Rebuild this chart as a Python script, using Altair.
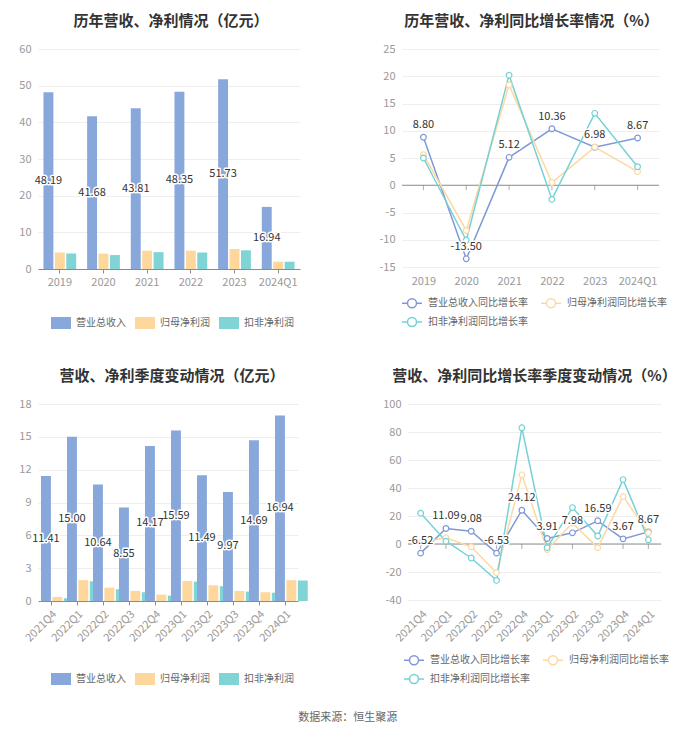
import altair as alt
import pandas as pd

FONT = "Noto Sans CJK SC"

years = ["2019", "2020", "2021", "2022", "2023", "2024Q1"]
rev_y = [48.19, 41.68, 43.81, 48.35, 51.73, 16.94]
np_y = [4.5, 4.2, 5.0, 5.0, 5.45, 2.0]
dnp_y = [4.2, 3.8, 4.6, 4.5, 5.1, 1.95]
rev_g_y = [8.80, -13.50, 5.12, 10.36, 6.98, 8.67]
np_g_y = [5.6, -8.3, 18.4, 0.5, 7.0, 2.5]
dnp_g_y = [5.0, -10.1, 20.2, -2.6, 13.2, 3.4]

quarters = ["2021Q4", "2022Q1", "2022Q2", "2022Q3", "2022Q4",
            "2023Q1", "2023Q2", "2023Q3", "2023Q4", "2024Q1"]
rev_q = [11.41, 15.00, 10.64, 8.55, 14.17, 15.59, 11.49, 9.97, 14.69, 16.94]
np_q = [0.37, 1.9, 1.22, 0.92, 0.58, 1.83, 1.44, 0.92, 0.8, 1.9]
dnp_q = [0.25, 1.8, 1.07, 0.8, 0.49, 1.77, 1.35, 0.86, 0.76, 1.87]
rev_g_q = [-6.52, 11.09, 9.08, -6.53, 24.12, 3.91, 7.98, 16.59, 3.67, 8.67]
np_g_q = [1.0, 4.5, -2.0, -20.5, 49.4, -4.0, 15.0, -2.6, 34.0, 8.0]
dnp_g_q = [22.0, 2.0, -10.0, -26.0, 83.0, -2.6, 26.0, 5.7, 46.0, 3.0]

bar_series = ["营业总收入", "归母净利润", "扣非净利润"]
bar_colors = ["#88a8dc", "#fdd79c", "#80d4d6"]
line_series = ["营业总收入同比增长率", "归母净利润同比增长率", "扣非净利润同比增长率"]
line_colors = ["#7f98d6", "#fdd8a0", "#74d2d5"]

RECT = "M-1,-0.6H1V0.6H-1Z"
LINESYM = ("M-1,0H-0.45M0.45,0H1M0.45,0A0.45,0.45,0,1,1,-0.45,0"
           "A0.45,0.45,0,1,1,0.45,0Z")
AXIS_GRAY = "#8c8c8c"
LABEL_GRAY = "#999999"
MINUS_FIX = "replace(datum.label, '\u2212', '-')"
TXT_EXPR = "(datum.value < 0 ? '-' : '') + format(abs(datum.value), '.2f')"


def make_title(text, dx):
    return alt.Title(text, fontSize=15, fontWeight="bold", color="#333333",
                     anchor="middle", offset=14, dx=dx, font=FONT)


def bar_panel(cats, rev, npv, dnp, ymax, step, w, h, title, rotate,
              pad_in, off_pad, lx, ly, tdx):
    rows = []
    for i, c in enumerate(cats):
        for s, v in zip(bar_series, (rev[i], npv[i], dnp[i])):
            rows.append({"cat": c, "series": s, "value": v})
    df = pd.DataFrame(rows)
    xaxis = alt.Axis(title=None, labelAngle=-45 if rotate else 0,
                     labelColor=LABEL_GRAY, labelFontSize=11,
                     domainColor=AXIS_GRAY, tickColor=AXIS_GRAY, tickSize=4,
                     labelPadding=3, grid=False, labelOverlap=False)
    x = alt.X("cat:N", sort=cats,
              scale=alt.Scale(paddingInner=pad_in, paddingOuter=pad_in / 2),
              axis=xaxis)
    xo = alt.XOffset("series:N", sort=bar_series,
                     scale=alt.Scale(domain=bar_series, paddingInner=off_pad))
    yaxis = alt.Axis(title=None, values=list(range(0, ymax + 1, step)),
                     labelColor=LABEL_GRAY, labelFontSize=11, domain=False,
                     ticks=False, gridColor="#eeeeee", labelPadding=7,
                     labelOverlap=False)
    yscale = alt.Scale(domain=[0, ymax], nice=False)
    y = alt.Y("value:Q", scale=yscale, axis=yaxis)
    yh = alt.Y("half:Q", scale=yscale, axis=yaxis)
    color = alt.Color("series:N", sort=bar_series,
                      scale=alt.Scale(domain=bar_series, range=bar_colors),
                      legend=alt.Legend(orient="none", legendX=lx, legendY=ly,
                                        direction="horizontal", title=None,
                                        symbolType=RECT, symbolSize=400,
                                        labelFontSize=10, labelColor="#666666",
                                        columnPadding=8, labelOffset=4))
    base = alt.Chart(df)
    bars = base.mark_bar().encode(x=x, xOffset=xo, y=y, color=color)
    lab = base.transform_filter(
        alt.datum.series == bar_series[0]
    ).transform_calculate(half="datum.value / 2", txt=TXT_EXPR)
    halo = lab.mark_text(fontSize=11, color="white", stroke="white",
                         strokeWidth=3, strokeJoin="round").encode(
        x=x, xOffset=xo, y=yh, text="txt:N")
    text = lab.mark_text(fontSize=11, color="#333333").encode(
        x=x, xOffset=xo, y=yh, text="txt:N")
    return alt.layer(bars, halo, text).properties(
        width=w, height=h, title=make_title(title, tdx))


def line_panel(cats, a, b, c, ymin, ymax, step, w, h, title, rotate, lx, ly,
               tdx):
    rows = []
    for i, cat in enumerate(cats):
        for s, v in zip(line_series, (a[i], b[i], c[i])):
            rows.append({"cat": cat, "series": s, "value": v})
    df = pd.DataFrame(rows)
    xaxis = alt.Axis(title=None, labelAngle=-45 if rotate else 0,
                     labelColor=LABEL_GRAY, labelFontSize=11, domain=False,
                     ticks=False, labelPadding=8, grid=False,
                     labelOverlap=False)
    x = alt.X("cat:N", sort=cats, scale=alt.Scale(type="point", padding=0.5),
              axis=xaxis)
    yaxis = alt.Axis(title=None, values=list(range(ymin, ymax + 1, step)),
                     labelColor=LABEL_GRAY, labelFontSize=11, domain=False,
                     ticks=False, gridColor="#eeeeee", labelPadding=7,
                     labelOverlap=False, labelExpr=MINUS_FIX)
    yscale = alt.Scale(domain=[ymin, ymax], nice=False)
    y = alt.Y("value:Q", scale=yscale, axis=yaxis)
    yz = alt.Y("z:Q", scale=yscale, axis=yaxis)
    zero = alt.Chart(pd.DataFrame({"z": [0]})).mark_rule(
        color=AXIS_GRAY, strokeWidth=1).encode(y=yz)
    tdf = pd.DataFrame({"cat": cats, "z": [0] * len(cats)})
    ticks = alt.Chart(tdf).mark_tick(orient="vertical", size=5, thickness=1,
                                     color=AXIS_GRAY, yOffset=2.5).encode(
        x=x, y=yz)
    color = alt.Color("series:N", sort=line_series,
                      scale=alt.Scale(domain=line_series, range=line_colors),
                      legend=alt.Legend(orient="none", legendX=lx, legendY=ly,
                                        direction="horizontal", columns=2,
                                        title=None, symbolType=LINESYM,
                                        symbolSize=400, symbolStrokeWidth=1.5,
                                        symbolFillColor="white",
                                        labelFontSize=10, labelColor="#666666",
                                        columnPadding=10, rowPadding=0,
                                        labelOffset=5))
    lines = alt.Chart(df).mark_line(
        strokeWidth=1.5,
        point=alt.OverlayMarkDef(filled=False, fill="white", size=32,
                                 strokeWidth=1.2)
    ).encode(x=x, y=y, color=color)
    lab = alt.Chart(df).transform_filter(
        alt.datum.series == line_series[0]
    ).transform_calculate(txt=TXT_EXPR)
    halo = lab.mark_text(fontSize=11, dy=-12, color="white", stroke="white",
                         strokeWidth=3, strokeJoin="round").encode(
        x=x, y=y, text="txt:N")
    text = lab.mark_text(fontSize=11, dy=-12, color="#333333").encode(
        x=x, y=y, text="txt:N")
    return alt.layer(zero, ticks, lines, halo, text).properties(
        width=w, height=h, title=make_title(title, tdx))


A = bar_panel(years, rev_y, np_y, dnp_y, 60, 10, 262, 220,
              "历年营收、净利情况（亿元）", False, 0.25, 0.13, 12, 263, 2)
B = line_panel(years, rev_g_y, np_g_y, dnp_g_y, -15, 25, 5, 257, 218,
               "历年营收、净利同比增长率情况（%）", False, -1, 243, 1)
C = bar_panel(quarters, rev_q, np_q, dnp_q, 18, 3, 260, 197,
              "营收、净利季度变动情况（亿元）", True, 0.23, 0.15, 12, 264, 4)
D = line_panel(quarters, rev_g_q, np_g_q, dnp_g_q, -40, 100, 20, 253, 196,
               "营收、净利同比增长率季度变动情况（%）", True, -5, 245, 0)

top = alt.hconcat(A, B, spacing=78).resolve_scale(color="independent")
bottom = alt.hconcat(C, D, spacing=74).resolve_scale(color="independent")

chart = alt.vconcat(top, bottom, spacing=39).resolve_scale(
    color="independent"
).properties(
    title=alt.Title("数据来源：恒生聚源", orient="bottom", anchor="middle",
                    fontSize=11, fontWeight="normal", color="#666666",
                    offset=25, font=FONT),
    padding={"left": 10, "top": 6, "right": 0, "bottom": 0},
).configure(font=FONT).configure_view(stroke=None)

chart.save("out.html", embed_options={"renderer": "svg", "actions": False})
